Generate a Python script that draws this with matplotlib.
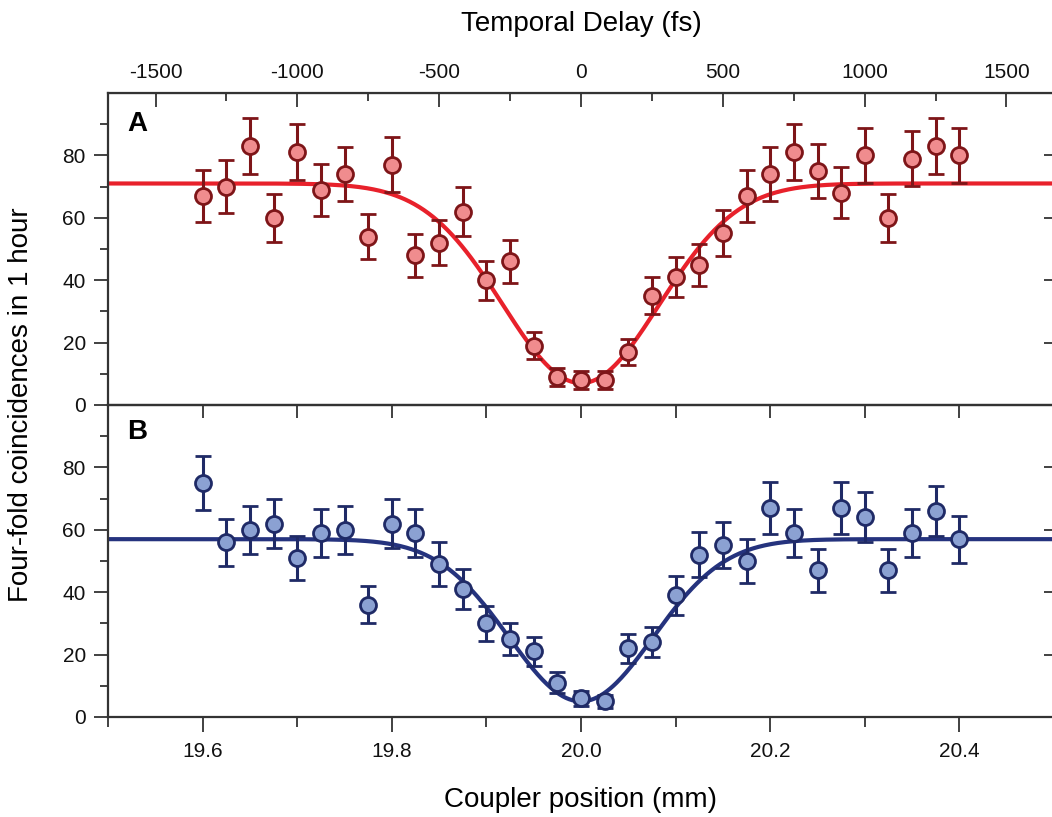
"""Two-panel HOM-style dip: four-fold coincidences vs coupler position."""

import matplotlib

matplotlib.use("Agg")
import matplotlib.pyplot as plt  # noqa: E402
import numpy as np  # noqa: E402
from matplotlib.ticker import FixedLocator, NullFormatter  # noqa: E402

plt.rcParams["font.family"] = ["Liberation Sans", "DejaVu Sans"]
plt.rcParams["axes.unicode_minus"] = False

# coupler positions (mm)
position = [19.600, 19.625, 19.650, 19.675, 19.700, 19.725, 19.750, 19.775, 19.800, 19.825, 19.850,
            19.875, 19.900, 19.925, 19.950, 19.975, 20.000, 20.025, 20.050, 20.075, 20.100, 20.125,
            20.150, 20.175, 20.200, 20.225, 20.250, 20.275, 20.300, 20.325, 20.350, 20.375, 20.400]

counts_a = [67, 70, 83, 60, 81, 69, 74, 54, 77, 48, 52, 62, 40, 46, 19, 9, 8,
            8, 17, 35, 41, 45, 55, 67, 74, 81, 75, 68, 80, 60, 79, 83, 80]
err_a = [8.2, 8.4, 9.1, 7.7, 9.0, 8.3, 8.6, 7.3, 8.8, 6.9, 7.2, 7.9, 6.3, 6.8, 4.4, 3.0, 2.8,
         2.8, 4.1, 5.9, 6.4, 6.7, 7.4, 8.2, 8.6, 9.0, 8.7, 8.2, 8.9, 7.7, 8.9, 9.1, 8.9]

counts_b = [75, 56, 60, 62, 51, 59, 60, 36, 62, 59, 49, 41, 30, 25, 21, 11, 6,
            5, 22, 24, 39, 52, 55, 50, 67, 59, 47, 67, 64, 47, 59, 66, 57]
err_b = [8.7, 7.5, 7.7, 7.9, 7.1, 7.7, 7.7, 6.0, 7.9, 7.7, 7.0, 6.4, 5.5, 5.0, 4.6, 3.3, 2.4,
         2.2, 4.7, 4.9, 6.2, 7.2, 7.4, 7.1, 8.2, 7.7, 6.9, 8.2, 8.0, 6.9, 7.7, 8.1, 7.5]

# gaussian dip fits: (baseline, minimum, centre mm, sigma mm)
fit_a = (71.0, 7.0, 20.0, 0.0827)
fit_b = (57.0, 5.0, 20.0, 0.076)

FS_PER_MM = 1e3 / 0.299792  # light travel time per mm
X0 = 20.0

RED_LINE, RED_FACE, RED_EDGE = "#e8212b", "#f08c8e", "#7e1518"
BLUE_LINE, BLUE_FACE, BLUE_EDGE = "#25337e", "#8ba1d2", "#1f2a66"
SPINE = "#333333"


def dip(x, p):
    base, low, c, s = p
    return base - (base - low) * np.exp(-(x - c) ** 2 / (2 * s ** 2))


def panel(ax, counts, err, fit, line_c, face_c, edge_c, tag):
    xs = np.linspace(19.5, 20.5, 600)
    ax.plot(xs, dip(xs, fit), color=line_c, lw=3.0, zorder=2)
    ax.errorbar(position, counts, yerr=err, fmt="o", ms=11.5, mfc=face_c, mec=edge_c, mew=2.0,
                ecolor=edge_c, elinewidth=2.2, capsize=5.5, capthick=2.2, zorder=3)
    ax.set_xlim(19.5, 20.5)
    ax.set_ylim(0, 100)
    ax.yaxis.set_major_locator(FixedLocator([0, 20, 40, 60, 80]))
    ax.yaxis.set_minor_locator(FixedLocator([10, 30, 50, 70, 90]))
    ax.tick_params(axis="y", which="major", direction="out", length=10, width=1.3, labelsize=15,
                   pad=6, colors=SPINE, labelcolor="#111111")
    ax.tick_params(axis="y", which="minor", direction="out", length=6, width=1.3, colors=SPINE)
    for sp in ax.spines.values():
        sp.set_linewidth(1.6)
        sp.set_color(SPINE)
    ax.text(0.02, 0.90 if tag == "A" else 0.915, tag, transform=ax.transAxes, fontsize=20,
            fontweight="bold", ha="left", va="center")
    right = ax.secondary_yaxis("right")
    right.yaxis.set_major_locator(FixedLocator([0, 20, 40, 60, 80]))
    right.yaxis.set_major_formatter(NullFormatter())
    right.tick_params(direction="in", length=7, width=1.3, colors=SPINE)


fig = plt.figure(figsize=(10.52, 8.17), dpi=100)
left, width = 108 / 1052, 946 / 1052
ax_a = fig.add_axes([left, (817 - 405) / 817, width, 312 / 817])
ax_b = fig.add_axes([left, (817 - 717) / 817, width, 312 / 817])
ax_b.set_facecolor("none")

panel(ax_a, counts_a, err_a, fit_a, RED_LINE, RED_FACE, RED_EDGE, "A")
panel(ax_b, counts_b, err_b, fit_b, BLUE_LINE, BLUE_FACE, BLUE_EDGE, "B")

# shared boundary: ticks of panel A hang down into panel B
ax_a.xaxis.set_major_locator(FixedLocator(np.round(np.arange(19.5, 20.51, 0.1), 2)))
ax_a.xaxis.set_major_formatter(NullFormatter())
ax_a.tick_params(axis="x", direction="out", length=9, width=1.3, colors=SPINE)

ax_b.xaxis.set_major_locator(FixedLocator([19.6, 19.8, 20.0, 20.2, 20.4]))
ax_b.xaxis.set_minor_locator(FixedLocator([19.5, 19.7, 19.9, 20.1, 20.3, 20.5]))
ax_b.xaxis.set_major_formatter(lambda v, pos: f"{v:.1f}")
ax_b.tick_params(axis="x", which="major", direction="out", length=11, width=1.3, labelsize=15,
                 pad=7, colors=SPINE, labelcolor="#111111")
ax_b.tick_params(axis="x", which="minor", direction="out", length=7, width=1.3, colors=SPINE)
ax_b.set_xlabel("Coupler position (mm)", fontsize=20, labelpad=19)

top = ax_a.secondary_xaxis("top", functions=(lambda x: (x - X0) * FS_PER_MM,
                                              lambda t: X0 + t / FS_PER_MM))
top.xaxis.set_major_locator(FixedLocator([-1500, -1000, -500, 0, 500, 1000, 1500]))
top.xaxis.set_minor_locator(FixedLocator([-1250, -750, -250, 250, 750, 1250]))
top.tick_params(which="major", direction="in", length=10, width=1.3, labelsize=15, pad=8,
                colors=SPINE, labelcolor="#111111")
top.tick_params(which="minor", direction="in", length=6, width=1.3, colors=SPINE)
top.set_xlabel("Temporal Delay (fs)", fontsize=20, labelpad=23)

fig.text(0.02, (817 - 405) / 817, "Four-fold coincidences in 1 hour", rotation=90,
         fontsize=20, ha="center", va="center")

fig.savefig("out.png", dpi=100)
